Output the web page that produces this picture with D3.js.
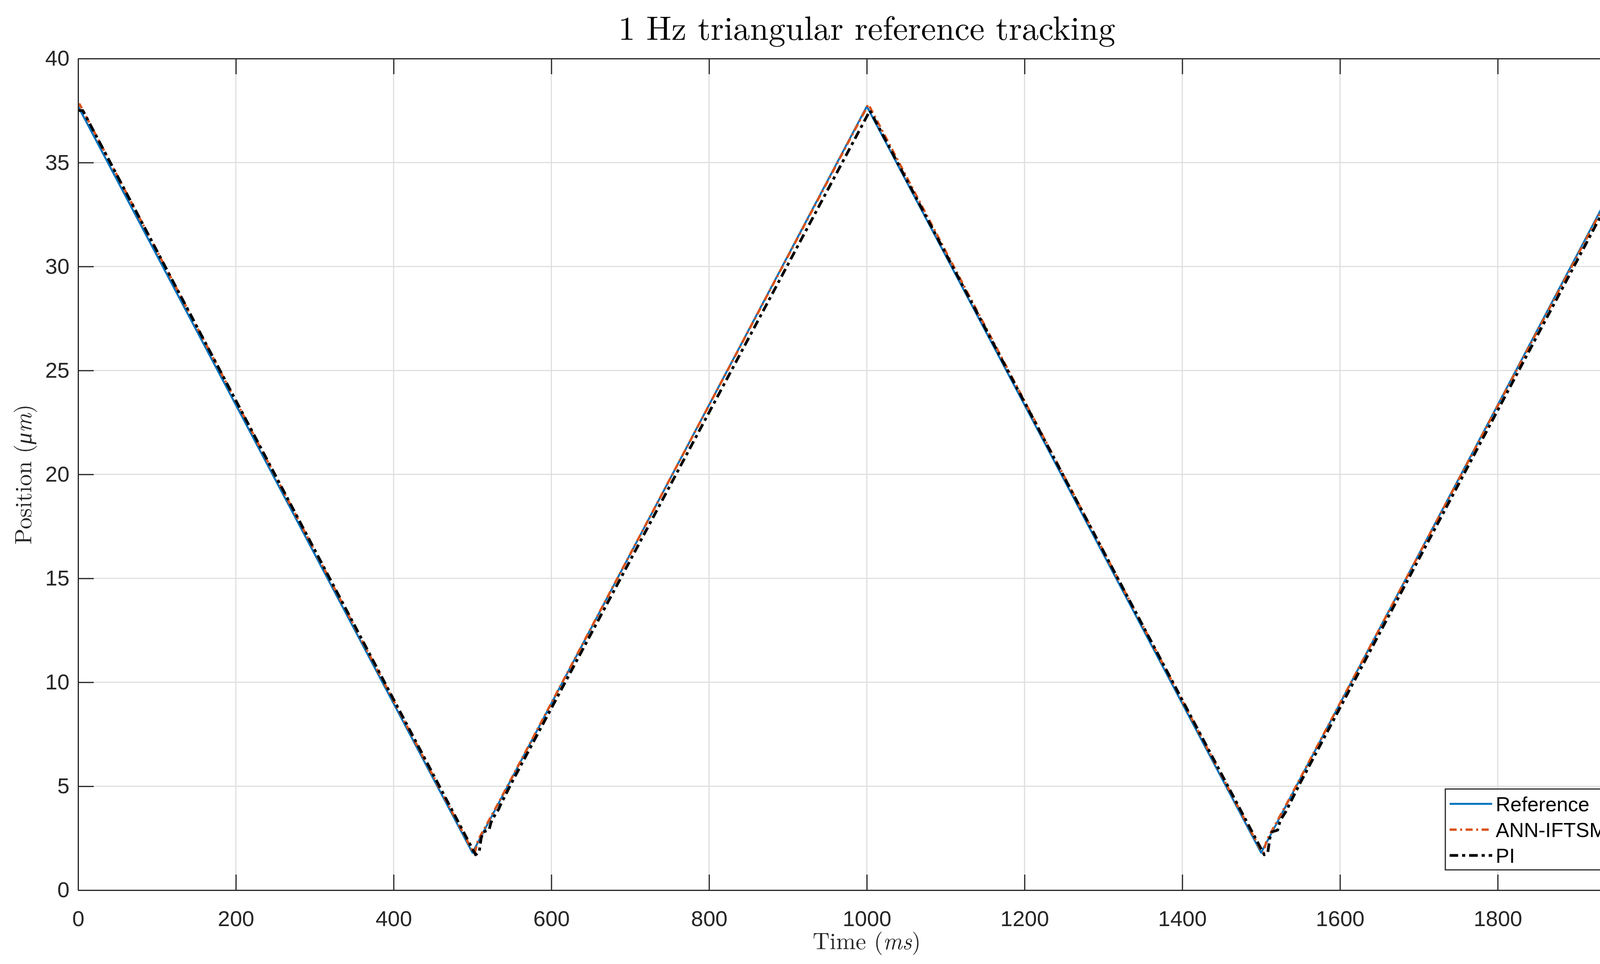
<!DOCTYPE html>
<html>
<head>
<meta charset="utf-8">
<script src="https://cdn.jsdelivr.net/npm/d3@7"></script>
<style>
  body { margin: 0; background: #fff; }
  text { fill: #262626; }
</style>
</head>
<body>
<svg id="chart" width="4339" height="2468"></svg>
<script>
// values
var refT = [0, 500, 1000, 1500, 2000];
var refY = [37.7, 1.8, 37.7, 1.8, 37.7];

var annT = [0, 2, 500, 503, 507, 520, 533, 1002, 1500, 1503, 1507, 1520, 1533, 2000];
var annY = [37.7, 37.8, 1.9, 1.8, 2.4, 3.3, 4.2, 37.8, 1.9, 1.8, 2.4, 3.3, 4.2, 37.6];

var piT = [0, 6, 504, 508.5, 511, 513.5, 521, 523.4, 526, 533.3, 535, 550,
           1004, 1504, 1508.5, 1511, 1513.5, 1521, 1523.4, 1526, 1533.3, 1535, 1550, 2000];
var piY = [37.5, 37.5, 1.7, 1.83, 2.49, 2.8, 2.89, 3.24, 3.46, 3.9, 4.06, 5.19,
           37.5, 1.7, 1.83, 2.49, 2.8, 2.89, 3.24, 3.46, 3.9, 4.06, 5.19, 37.4];

var xTicks = [0, 200, 400, 600, 800, 1000, 1200, 1400, 1600, 1800, 2000];
var yTicks = [0, 5, 10, 15, 20, 25, 30, 35, 40];

var series = [
  {name: "Reference", t: refT, v: refY, color: "#0072BD", width: 5, dash: null},
  {name: "ANN-IFTSMC", t: annT, v: annY, color: "#D95319", width: 6, dash: "18,9,5,9"},
  {name: "PI", t: piT, v: piY, color: "#000000", width: 7, dash: "22,10,8,10"}
];

var pLeft = 200, pRight = 4238, pTop = 150, pBottom = 2279;
var svg = d3.select("#chart");
var x = d3.scaleLinear().domain([0, 2000]).range([pLeft, pRight]);
var y = d3.scaleLinear().domain([0, 40]).range([pBottom, pTop]);
var axisColor = "#262626";
var tickLen = 40;
var fmt = d3.format("d");

// grid
svg.append("g").selectAll("line").data(xTicks).enter().append("line")
  .attr("x1", function(d){ return x(d); }).attr("x2", function(d){ return x(d); })
  .attr("y1", pTop).attr("y2", pBottom)
  .attr("stroke", "#dfdfdf").attr("stroke-width", 3);
svg.append("g").selectAll("line").data(yTicks).enter().append("line")
  .attr("y1", function(d){ return y(d); }).attr("y2", function(d){ return y(d); })
  .attr("x1", pLeft).attr("x2", pRight)
  .attr("stroke", "#dfdfdf").attr("stroke-width", 3);

// lines
svg.append("clipPath").attr("id", "clip").append("rect")
  .attr("x", pLeft).attr("y", pTop).attr("width", pRight - pLeft).attr("height", pBottom - pTop);
var line = d3.line().x(function(d){ return x(d[0]); }).y(function(d){ return y(d[1]); });
var plot = svg.append("g").attr("clip-path", "url(#clip)");
series.forEach(function(s){
  var pts = s.t.map(function(t, i){ return [t, s.v[i]]; });
  plot.append("path").datum(pts).attr("d", line)
    .attr("fill", "none").attr("stroke", s.color).attr("stroke-width", s.width)
    .attr("stroke-dasharray", s.dash).attr("stroke-linejoin", "round");
});

// axes: ticks inside, box on
var xb = svg.append("g").attr("transform", "translate(0," + pBottom + ")")
  .call(d3.axisBottom(x).tickValues(xTicks).tickFormat(fmt).tickSizeInner(-tickLen).tickSizeOuter(0).tickPadding(52));
var xt = svg.append("g").attr("transform", "translate(0," + pTop + ")")
  .call(d3.axisTop(x).tickValues(xTicks).tickSizeInner(-tickLen).tickSizeOuter(0).tickFormat(""));
var yl = svg.append("g").attr("transform", "translate(" + pLeft + ",0)")
  .call(d3.axisLeft(y).tickValues(yTicks).tickFormat(fmt).tickSizeInner(-tickLen).tickSizeOuter(0).tickPadding(22));
var yr = svg.append("g").attr("transform", "translate(" + pRight + ",0)")
  .call(d3.axisRight(y).tickValues(yTicks).tickSizeInner(-tickLen).tickSizeOuter(0).tickFormat(""));
[xb, xt, yl, yr].forEach(function(g){
  g.selectAll("path").attr("stroke", axisColor).attr("stroke-width", 3);
  g.selectAll("line").attr("stroke", axisColor).attr("stroke-width", 3);
  g.selectAll("text").attr("font-family", "Liberation Sans, Arial, sans-serif")
    .attr("font-size", 56).style("fill", axisColor);
});
xb.selectAll("text").attr("dy", "0.71em");

// title and axis labels
var serif = "Latin Modern Roman, CMU Serif, Liberation Serif, DejaVu Serif, serif";
svg.append("text").attr("x", (pLeft + pRight) / 2).attr("y", 102)
  .attr("text-anchor", "middle").attr("font-family", serif).attr("font-size", 86)
  .style("fill", "#000").text("1 Hz triangular reference tracking");
var xl = svg.append("text").attr("x", (pLeft + pRight) / 2).attr("y", 2430)
  .attr("text-anchor", "middle").attr("font-family", serif).attr("font-size", 60);
xl.append("tspan").text("Time (");
xl.append("tspan").attr("font-style", "italic").text("ms");
xl.append("tspan").text(")");
var ylab = svg.append("text").attr("transform", "translate(80," + (pTop + pBottom) / 2 + ") rotate(-90)")
  .attr("text-anchor", "middle").attr("font-family", serif).attr("font-size", 60);
ylab.append("tspan").text("Position (");
ylab.append("tspan").attr("font-style", "italic").text("μm");
ylab.append("tspan").text(")");

// legend
var lg = svg.append("g");
lg.append("rect").attr("x", 3700).attr("y", 2020).attr("width", 454).attr("height", 207)
  .attr("fill", "#fff").attr("stroke", axisColor).attr("stroke-width", 3);
series.forEach(function(s, i){
  var cy = 2058 + i * 66;
  lg.append("line").attr("x1", 3711).attr("x2", 3820).attr("y1", cy).attr("y2", cy)
    .attr("stroke", s.color).attr("stroke-width", s.width).attr("stroke-dasharray", s.dash);
  lg.append("text").attr("x", 3829).attr("y", cy).attr("dy", "0.36em")
    .attr("font-family", "Liberation Sans, Arial, sans-serif").attr("font-size", 52)
    .style("fill", "#000").text(s.name);
});
</script>
</body>
</html>
